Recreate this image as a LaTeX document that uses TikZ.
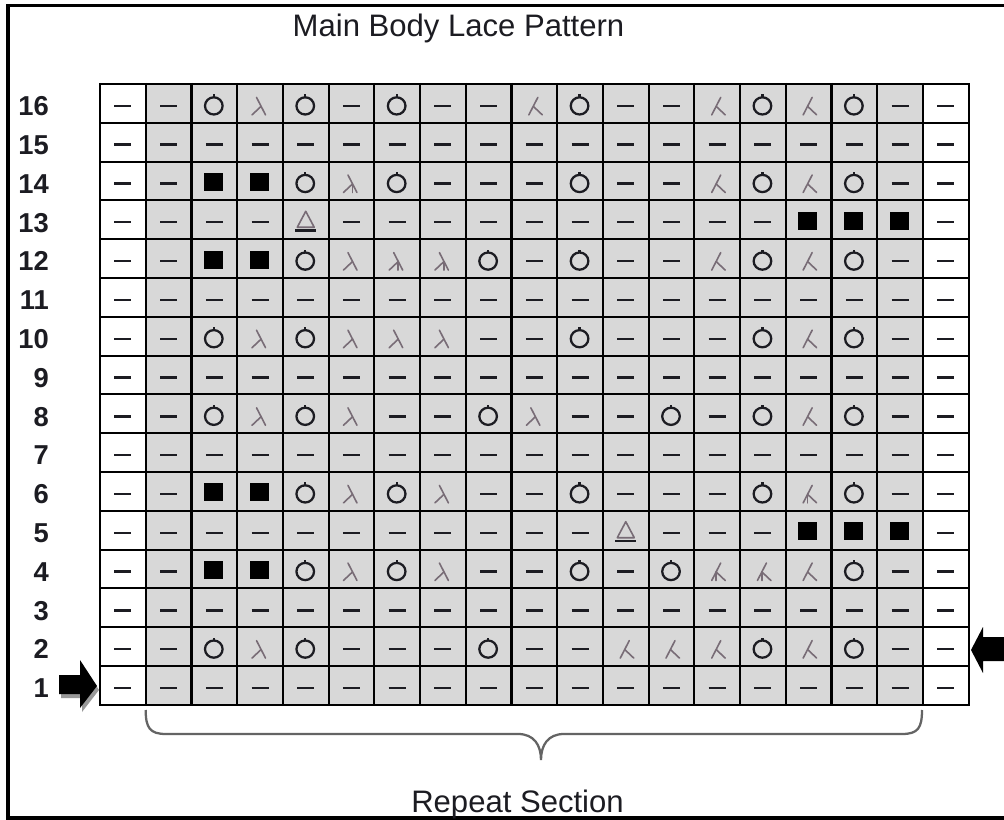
\documentclass[tikz,border=0pt]{standalone}
\usepackage{fontspec}
\setmainfont{Liberation Sans}
\definecolor{cellgray}{RGB}{216,216,216}
\definecolor{lamcol}{RGB}{120,108,118}
\definecolor{inkcol}{RGB}{28,28,34}
\definecolor{bracecol}{RGB}{100,100,100}
\tikzset{
  gridline/.style={line width=1.6pt, black},
  dashsym/.style={line width=1.8pt, inkcol},
  osym/.style={line width=1.7pt, inkcol},
  lamsym/.style={line width=1.2pt, lamcol, line cap=round},
  rowlab/.style={anchor=base east, inner sep=0pt, text=inkcol, font=\fontsize{20.5}{24}\selectfont\bfseries},
  captext/.style={anchor=base, inner sep=0pt, text=inkcol, font=\fontsize{23.3}{28}\selectfont},
  symd/.pic={\draw[dashsym] (-8.5,2.5) -- (8.5,2.5);},
  symo/.pic={\draw[osym] (-0.5,2.5) ellipse [x radius=8.8, y radius=8.6];
             \draw[osym] (-0.5,-6.1) -- (-0.5,-9);},
  symk/.pic={\draw[lamsym] (-3.5,-6) -- (5.5,11.5); \draw[lamsym] (1,3) -- (-8,11.5);},
  syms/.pic={\draw[lamsym] (3.5,-6) -- (-5.5,11.5); \draw[lamsym] (-1,3) -- (8,11.5);},
  symK/.pic={\draw[lamsym] (-3.5,-6) -- (5.5,11.5); \draw[lamsym] (1,3) -- (-8,11.5);
             \draw[lamsym] (1,3) -- (1,11.5);},
  symS/.pic={\draw[lamsym] (3.5,-6) -- (-5.5,11.5); \draw[lamsym] (-1,3) -- (8,11.5);
             \draw[lamsym] (-1,3) -- (-1,11.5);},
  symb/.pic={\fill[black] (-10.5,-8) rectangle (8.5,10);},
  symt/.pic={\draw[lamsym, line join=round] (-8.5,7.5) -- (0,-8.5) -- (8.5,7.5) -- cycle;
             \draw[dashsym] (-10.5,10.8) -- (10.5,10.8);},
  arrowfill/.style={fill=black},
  arrowshadow/.style={fill=black!40},
  bracesty/.style={line width=1.7pt, bracecol},
  framesty/.style={line width=2.6pt, black}
}
\newcommand{\chartrow}[2]{%
  \foreach \c [count=\i] in {#2} {%
    \pic at ({100+(\i-0.5)*45.72},{84+(16.5-#1)*38.8}) {sym\c};
  }%
}
\begin{document}
\begin{tikzpicture}[x=0.75pt, y=-0.75pt]
\useasboundingbox (0,0) rectangle (1004,820);
\fill[white] (0,0) rectangle (1004,820);
% frame
\draw[framesty] (1004,5.5) -- (8,5.5) -- (8,818) -- (1004,818);
% title
\node[captext] (title) at (458.5,37) {Main Body Lace Pattern};
\node[captext] (repeat) at (517.5,812) {Repeat Section};
% gray cells
\fill[cellgray] (145.72,84) rectangle (922.96,704.8);
% symbols
\chartrow{16}{d,d,o,k,o,d,o,d,d,s,o,d,d,s,o,s,o,d,d}
\chartrow{15}{d,d,d,d,d,d,d,d,d,d,d,d,d,d,d,d,d,d,d}
\chartrow{14}{d,d,b,b,o,K,o,d,d,d,o,d,d,s,o,s,o,d,d}
\chartrow{13}{d,d,d,d,t,d,d,d,d,d,d,d,d,d,d,b,b,b,d}
\chartrow{12}{d,d,b,b,o,k,K,K,o,d,o,d,d,s,o,s,o,d,d}
\chartrow{11}{d,d,d,d,d,d,d,d,d,d,d,d,d,d,d,d,d,d,d}
\chartrow{10}{d,d,o,k,o,k,k,k,d,d,o,d,d,d,o,s,o,d,d}
\chartrow{9}{d,d,d,d,d,d,d,d,d,d,d,d,d,d,d,d,d,d,d}
\chartrow{8}{d,d,o,k,o,k,d,d,o,k,d,d,o,d,o,s,o,d,d}
\chartrow{7}{d,d,d,d,d,d,d,d,d,d,d,d,d,d,d,d,d,d,d}
\chartrow{6}{d,d,b,b,o,k,o,k,d,d,o,d,d,d,o,S,o,d,d}
\chartrow{5}{d,d,d,d,d,d,d,d,d,d,d,t,d,d,d,b,b,b,d}
\chartrow{4}{d,d,b,b,o,k,o,k,d,d,o,d,o,S,S,s,o,d,d}
\chartrow{3}{d,d,d,d,d,d,d,d,d,d,d,d,d,d,d,d,d,d,d}
\chartrow{2}{d,d,o,k,o,d,d,d,o,d,d,s,s,s,o,s,o,d,d}
\chartrow{1}{d,d,d,d,d,d,d,d,d,d,d,d,d,d,d,d,d,d,d}
% grid lines
\foreach \k in {0,...,19}
  \draw[gridline] ({100+\k*45.72},83) -- ({100+\k*45.72},705.8);
\foreach \k in {0,...,16}
  \draw[gridline] (99,{84+\k*38.8}) -- (969.7,{84+\k*38.8});
% row labels
\foreach \r in {1,...,16}
  \node[rowlab] (lab\r) at (49,{84+(16.5-\r)*38.8+12.3}) {\r};
% arrows
\fill[arrowshadow] (61,679) -- (82,679) -- (82,664) -- (99,690) -- (82,712) -- (82,698) -- (61,698) -- cycle;
\fill[arrowfill] (59,675) -- (80,675) -- (80,660) -- (97,686) -- (80,708) -- (80,694) -- (59,694) -- cycle;
\fill[arrowfill] (1004,637) -- (983,637) -- (983,627) -- (971,650) -- (983,673) -- (983,661) -- (1004,661) -- cycle;
% brace
\draw[bracesty] (145.7,710) .. controls (145.7,728) and (150,734) .. (166,734) -- (518,734)
  .. controls (534,734) and (541,745) .. (541,760)
  .. controls (541,745) and (548,734) .. (564,734) -- (902,734)
  .. controls (918,734) and (922,728) .. (922,710);
\end{tikzpicture}
\end{document}
